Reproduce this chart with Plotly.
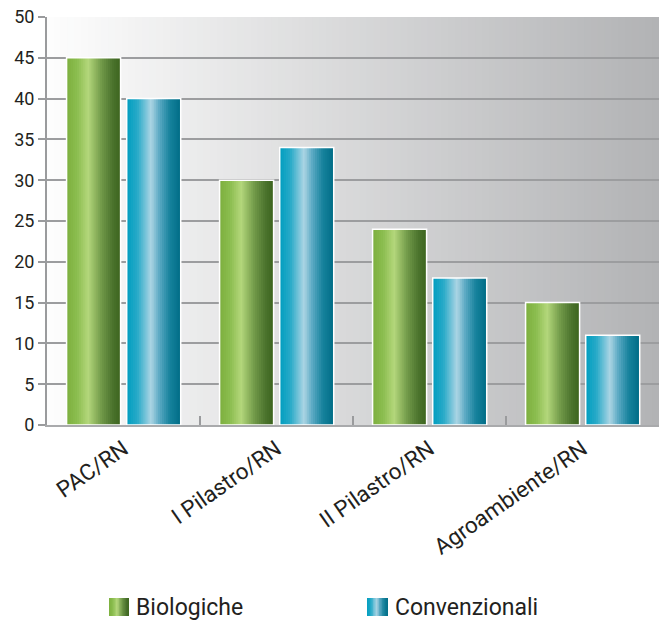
import plotly.graph_objects as go

# Data
categories = ["PAC/RN", "I Pilastro/RN", "II Pilastro/RN", "Agroambiente/RN"]
biologiche = [45, 30, 24, 15]
convenzionali = [40, 34, 18, 11]
series_names = ["Biologiche", "Convenzionali"]
y_ticks = [0, 5, 10, 15, 20, 25, 30, 35, 40, 45, 50]

# Colour stops for the shaded (cylinder-like) bars
green_stops = [(0.0, (124, 175, 62)), (0.2, (140, 190, 80)), (0.4, (180, 215, 124)),
               (0.5, (152, 190, 102)), (0.65, (112, 152, 72)), (0.85, (76, 116, 46)),
               (1.0, (60, 100, 30))]
blue_stops = [(0.0, (0, 158, 192)), (0.2, (40, 170, 200)), (0.45, (172, 213, 228)),
              (0.6, (92, 170, 196)), (0.8, (22, 130, 156)), (1.0, (0, 108, 134))]


def lerp_color(stops, t):
    for (t0, c0), (t1, c1) in zip(stops, stops[1:]):
        if t0 <= t <= t1:
            f = (t - t0) / (t1 - t0) if t1 > t0 else 0
            return "rgb(%d,%d,%d)" % tuple(round(a + (b - a) * f) for a, b in zip(c0, c1))
    return "rgb(%d,%d,%d)" % stops[-1][1]


N_STRIPS = 26
BAR_W = 0.353
offsets = [-0.372, 0.021]

fig = go.Figure()

for values, stops, off in zip([biologiche, convenzionali], [green_stops, blue_stops], offsets):
    sw = BAR_W / N_STRIPS
    # each strip runs to the bar's right edge, so later strips cover earlier ones seamlessly
    for i in range(N_STRIPS):
        fig.add_trace(go.Bar(
            x=categories, y=values,
            width=BAR_W - i * sw, offset=off + i * sw,
            marker=dict(color=lerp_color(stops, (i + 0.5) / N_STRIPS), line=dict(width=0)),
            showlegend=False, hoverinfo="skip",
        ))
    # white outline round each bar
    fig.add_trace(go.Bar(
        x=categories, y=values, width=BAR_W, offset=off,
        marker=dict(color="rgba(0,0,0,0)", line=dict(color="white", width=1.5)),
        showlegend=False,
    ))

# Plot-area background: horizontal light-to-grey gradient
shapes = []
N_BG = 90
for i in range(N_BG):
    t = i / (N_BG - 1)
    v0 = (253, 253, 253)
    v1 = (178, 179, 181)
    col = "rgb(%d,%d,%d)" % tuple(round(a + (b - a) * t) for a, b in zip(v0, v1))
    shapes.append(dict(type="rect", xref="x domain", yref="y domain",
                       x0=i / N_BG, x1=(i + 1) / N_BG + 0.002, y0=0, y1=1,
                       fillcolor=col, line=dict(width=0), layer="below"))

# Legend swatches (gradient) and labels
annotations = []
legend_items = [(series_names[0], green_stops, 109, 129, 134),
                (series_names[1], blue_stops, 367, 388, 393)]
PLOT_L, PLOT_W, PLOT_B, PLOT_H = 47, 612, 425, 408
for name, stops, px0, px1, tx in legend_items:
    n = 14
    for i in range(n):
        a = px0 + (px1 - px0) * i / n
        shapes.append(dict(type="rect", xref="paper", yref="paper",
                           x0=(a - PLOT_L) / PLOT_W, x1=(px1 - PLOT_L) / PLOT_W,
                           y0=(PLOT_B - 616) / PLOT_H, y1=(PLOT_B - 598) / PLOT_H,
                           fillcolor=lerp_color(stops, (i + 0.5) / n), line=dict(width=0),
                           layer="above"))
    annotations.append(dict(text=name, xref="paper", yref="paper",
                            x=(tx - PLOT_L) / PLOT_W, y=(PLOT_B - 607) / PLOT_H,
                            xanchor="left", yanchor="middle", showarrow=False,
                            font=dict(family="Roboto", size=23, color="#231f20")))

fig.update_layout(
    width=659, height=620,
    margin=dict(l=47, r=0, t=17, b=195),
    paper_bgcolor="white", plot_bgcolor="rgba(0,0,0,0)",
    barmode="overlay",
    showlegend=False,
    shapes=shapes, annotations=annotations,
    font=dict(family="Roboto", color="#231f20"),
)

fig.update_xaxes(
    type="category", showgrid=False, zeroline=False,
    showline=True, linecolor="#a9aaac", linewidth=2,
    ticks="inside", tickson="boundaries", ticklen=9, tickwidth=2, tickcolor="#9a9b9d",
    tickangle=-35, tickfont=dict(size=22.5, color="#231f20"),
)

fig.update_yaxes(
    range=[0, 50], tickvals=y_ticks, showgrid=True, gridcolor="#9c9d9f", gridwidth=2,
    zeroline=False, showline=True, linecolor="#9a9b9d", linewidth=2,
    ticks="outside", ticklen=7, tickwidth=2, tickcolor="#9a9b9d",
    tickfont=dict(size=18, color="#231f20"),
)

fig.write_html("out.html")
